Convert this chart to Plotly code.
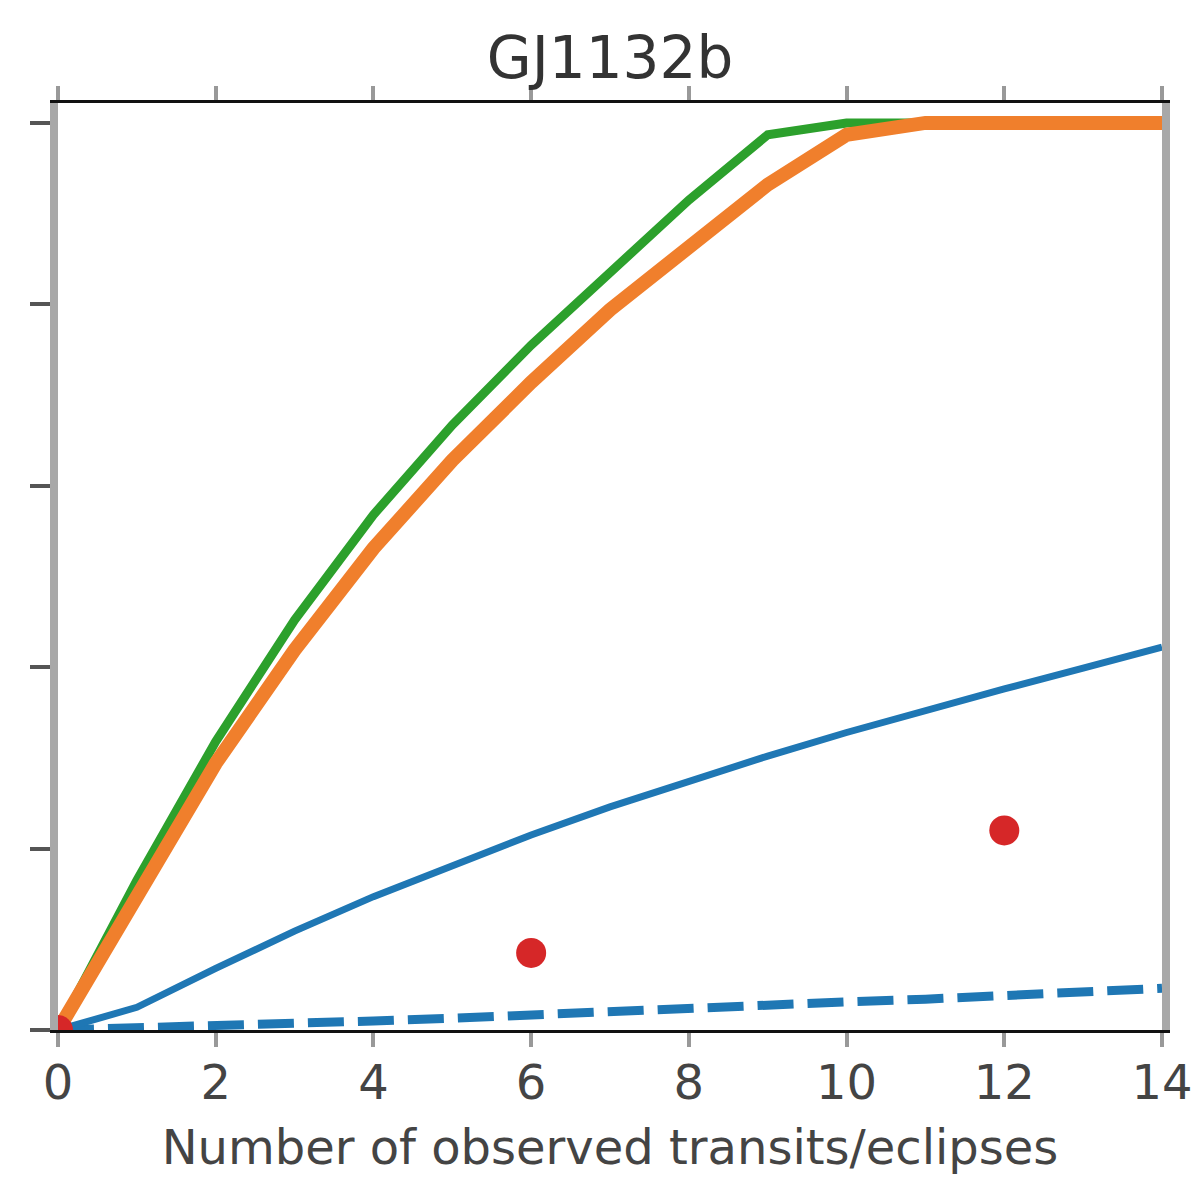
import plotly.graph_objects as go

# Data
n_obs = list(range(0, 15))
green_vals = [0.0, 0.165, 0.318, 0.452, 0.568, 0.667, 0.755, 0.836, 0.915, 0.987, 1.0, 1.0, 1.0, 1.0, 1.0]
orange_vals = [0.0, 0.150, 0.294, 0.419, 0.531, 0.628, 0.714, 0.794, 0.865, 0.932, 0.987, 1.0, 1.0, 1.0, 1.0]
blue_vals = [0.0, 0.025, 0.068, 0.109, 0.147, 0.182, 0.215, 0.246, 0.275, 0.302, 0.328, 0.353, 0.376, 0.399, 0.422]
blue_dash_vals = [0.0, 0.002, 0.005, 0.008, 0.010, 0.013, 0.017, 0.020, 0.024, 0.027, 0.031, 0.034, 0.038, 0.042, 0.046]
red_x = [0, 6, 12]
red_y = [0.0, 0.085, 0.220]

x_ticks = [0, 2, 4, 6, 8, 10, 12, 14]
y_ticks = [0.0, 0.2, 0.4, 0.6, 0.8, 1.0]

title_text = "GJ1132b"
x_label = "Number of observed transits/eclipses"

fig = go.Figure()
fig.add_trace(go.Scatter(x=n_obs, y=blue_dash_vals, mode="lines",
                         line=dict(color="#1f77b4", width=9, dash="36px,14px")))
fig.add_trace(go.Scatter(x=n_obs, y=blue_vals, mode="lines",
                         line=dict(color="#1f77b4", width=7)))
fig.add_trace(go.Scatter(x=n_obs, y=green_vals, mode="lines",
                         line=dict(color="#2ca02c", width=9)))
fig.add_trace(go.Scatter(x=n_obs, y=orange_vals, mode="lines",
                         line=dict(color="#f07f2c", width=14)))
fig.add_trace(go.Scatter(x=red_x, y=red_y, mode="markers",
                         marker=dict(color="#d62728", size=30, line=dict(width=0))))

fig.update_layout(
    width=1204, height=1181,
    margin=dict(l=50, r=50, t=95, b=159),
    paper_bgcolor="white", plot_bgcolor="white",
    showlegend=False,
    font=dict(family="DejaVu Sans", color="#333333"),
    title=dict(text=title_text, x=0.5, xanchor="center", y=1 - 50 / 1181, yanchor="middle",
               yref="container", font=dict(size=58, color="#333333")),
)
fig.update_xaxes(
    range=[0, 14], tickvals=x_ticks, ticktext=[str(v) for v in x_ticks],
    showgrid=False, zeroline=False,
    showline=True, linecolor="#111111", linewidth=3, mirror="ticks",
    ticks="outside", ticklen=14, tickwidth=4, tickcolor="#999999",
    ticklabelstandoff=-6,
    tickfont=dict(size=48, color="#444444"),
    title=dict(text=x_label, font=dict(size=48, color="#444444"), standoff=22),
)
fig.update_yaxes(
    range=[0, 1.022], tickvals=y_ticks, showticklabels=False,
    showgrid=False, zeroline=False,
    showline=True, linecolor="#a8a8a8", linewidth=8, mirror=True,
    ticks="outside", ticklen=20, tickwidth=4, tickcolor="#555555",
)

fig.write_html("out.html")
